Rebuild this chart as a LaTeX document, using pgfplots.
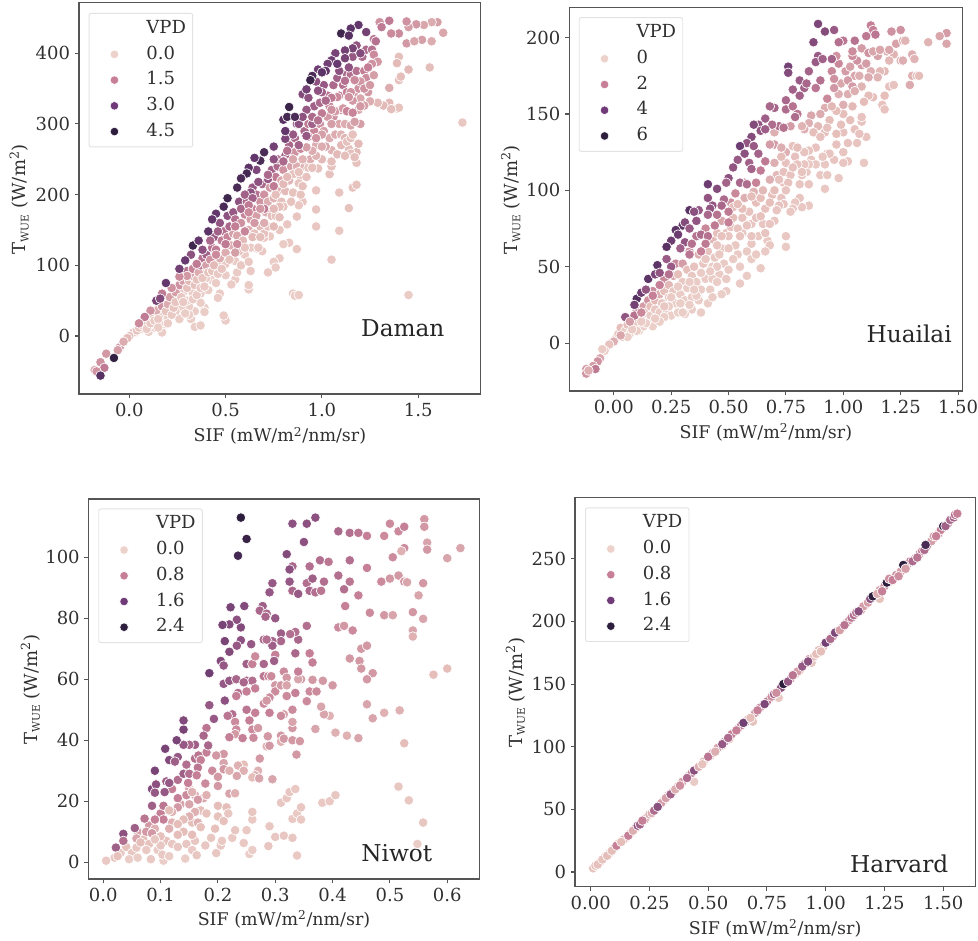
\documentclass[border=0pt]{standalone}
\usepackage{fontspec}
\setmainfont{DejaVu Serif}
\usepackage{pgfplots}
\pgfplotsset{compat=1.18}
\definecolor{axl}{HTML}{555555}
\definecolor{txt}{HTML}{303030}
\definecolor{leg}{HTML}{E2E2E2}
\definecolor{lc0}{HTML}{EDD1CB}
\definecolor{lc1}{HTML}{C67F96}
\definecolor{lc2}{HTML}{703A78}
\definecolor{lc3}{HTML}{2D1E3E}
\newcommand{\twue}{T{\raisebox{-0.3ex}{\fontsize{8pt}{9pt}\selectfont WUE}} (W/m\textsuperscript{2})}
\newcommand{\sif}{SIF (mW/m\textsuperscript{2}/nm/sr)}
\tikzset{lab/.style={font=\fontsize{17.4pt}{20pt}\selectfont,text=black!85}}
\pgfplotsset{
 colormap={ch}{rgb255=(237,209,203) rgb255=(229,190,186) rgb255=(197,127,150) rgb255=(150,88,132) rgb255=(102,56,110) rgb255=(45,30,62)},
 panel/.style={
  scale only axis, anchor=south west, clip=false,
  axis line style={axl,line width=0.9pt},
  tick style={axl,line width=0.8pt,major tick length=3.2pt},
  tick align=outside, xtick pos=bottom, ytick pos=left,
  minor tick num=0, scaled ticks=false,
  font=\fontsize{13.5pt}{15pt}\selectfont,
  tick label style={text=txt,font=\fontsize{13.5pt}{15pt}\selectfont},
  /pgf/number format/assume math mode=true,
  xlabel={\sif}, ylabel={\twue},
  every axis x label/.style={at={(axis description cs:0.5,-0.107)},anchor=center,text=txt,font=\fontsize{13.1pt}{15pt}\selectfont},
  every axis y label/.style={at={(axis description cs:-0.149,0.498)},anchor=center,rotate=90,text=txt,font=\fontsize{13.5pt}{15pt}\selectfont},
  legend cell align=left,
  legend style={anchor=north west,draw=leg,rounded corners=1.5pt,fill=white,line width=0.7pt,
    font=\fontsize{13.5pt}{15pt}\selectfont,text=txt,
    inner xsep=5pt,inner ysep=5.5pt,row sep=7.3pt,
    nodes={text height=9.5pt,text depth=2.5pt,inner sep=0pt}},
 },
 pts/.style={scatter,only marks,mark=*,mark size=3.6pt,point meta=explicit,
   scatter/use mapped color={draw=white,fill=mapped color},
   mark options={line width=0.5pt},forget plot},
 lgm/.style={only marks,mark=*,mark size=3.2pt,mark options={draw=white,fill=#1,line width=0.4pt},
   legend image code/.code={\draw[##1] plot coordinates {(14pt,0cm)};\path[draw=none,fill=none] (0pt,0pt) rectangle (38pt,0.1cm);}},
 lge/.style={legend image code/.code={\path[draw=none,fill=none] (0pt,0pt) rectangle (38pt,0.1cm);}},
}
\begin{document}
\begin{tikzpicture}
\path[use as bounding box] (0pt,0pt) rectangle (733.5pt,705pt);
% ---------------- Daman
\begin{axis}[panel,at={(59.25pt,409.5pt)},width=301.3pt,height=293.5pt,
 xmin=-0.2615,xmax=1.825,ymin=-82,ymax=471.6,
 xtick={0,0.5,1,1.5},ytick={0,100,200,300,400},
 xticklabel style={/pgf/number format/.cd,fixed,fixed zerofill,precision=1},
 point meta min=0,point meta max=4.7,
 legend style={at={(0.024,0.974)}}]
\addlegendimage{lge}\addlegendentry{VPD}
\addlegendimage{lgm=lc0}\addlegendentry{0.0}
\addlegendimage{lgm=lc1}\addlegendentry{1.5}
\addlegendimage{lgm=lc2}\addlegendentry{3.0}
\addlegendimage{lgm=lc3}\addlegendentry{4.5}
\addplot[pts] coordinates {
(1.73,302)[.5](1.45,58)[.3](0.85,60)[.3](0.86,57)[.3](0.88,58)[.3](1.05,108)[.5](1.09,149)[.5](0.97,155)[.5](0.97,179)[.6](0.9,190)[.6](0.88,185)[.5](0.87,169)[.6](0.87,123)[.5](0.83,132)[.4](0.80,130)[.3](0.82,158)[.5](0.78,110)[.4](0.73,141)[.4](0.70,139)[.4](0.72,90)[.4](0.75,105)[.3](0.76,97)[.3](0.69,120)[.4](0.66,124)[.3](0.63,125)[.3](0.62,66)[.3](0.62,72)[.3](0.55,80)[.3](0.63,92)[.4](0.6,115)[.3](0.56,90)[.3](0.55,106)[.3](0.5,102)[.4](0.5,86)[.3](0.53,73)[.3](0.5,22)[.3](0.49,29)[.3](0.47,60)[.3](0.46,54)[.3](0.46,106)[.5](0.43,79)[.3](0.45,75)[.3](0.4,82)[.3](0.39,92)[.4](0.41,65)[.2](0.37,60)[.2](0.39,40)[.2](0.39,34)[.2](0.37,47)[.2](0.34,35)[.2](0.32,24)[.2](0.34,13)[.2](0.37,15)[.2](0.33,60)[.3](0.31,42)[.2](0.27,40)[.2](0.25,52)[.4](0.25,30)[.2](0.26,24)[.2](0.31,30)[.2](0.28,62)[.3](0.3,50)[.2](0.17,8)[.2](0.17,5)[.2](0.1,6)[.2](0.03,5)[.2](0.18,17)[.3](0.16,18)[.2](0.16,28)[.4](0.18,30)[.3](0.13,12)[.2](0.2,25)[.3](0.24,35)[.2](0.06,10)[.3](0.1,14)[.3]
(0.02,5)[.5](0.04,8)[.8](0.05,12)[.6](0.07,15)[.6](0.08,20)[.6](0.09,10)[.3](0.1,25)[1](0.11,18)[.5](0.12,30)[.8](0.13,22)[.4](0.14,36)[1.2](0.15,24)[.4](0.15,12)[.2](0.17,42)[1.6](0.19,35)[.7](0.2,18)[.3](0.2,45)[1.2](0.21,55)[1.4](0.22,30)[.4](0.23,40)[.6](0.24,62)[1.4](0.24,48)[.6](0.26,72)[1.6](0.27,55)[.5](0.28,78)[1.4](0.28,48)[.4](0.29,32)[.2](0.3,92)[2.2](0.3,68)[.8](0.31,78)[1.0](0.32,85)[1.4](0.33,52)[.3](0.33,95)[1.8](0.34,72)[.8](0.35,80)[.8](0.35,58)[.4](0.36,90)[1.2](0.37,100)[2](0.37,68)[.5](0.38,110)[2.2](0.38,82)[.6](0.39,70)[.4](0.4,115)[2.6](0.4,100)[1.4](0.41,90)[.7](0.42,108)[1.6](0.43,125)[2.2](0.43,92)[.7](0.44,140)[2.8](0.44,100)[1.0](0.45,122)[2](0.46,88)[.5](0.47,110)[1.2](0.48,135)[2](0.48,95)[.6](0.49,148)[2.2](0.5,118)[1.2](0.51,140)[1.8](0.51,170)[3](0.52,108)[.7](0.53,128)[1.2](0.54,175)[2.8](0.54,145)[1.4](0.55,165)[2.2](0.56,142)[1.3](0.57,190)[3](0.57,120)[.7](0.58,160)[1.6](0.58,100)[.5](0.59,135)[1](0.6,172)[1.8](0.6,125)[.6](0.61,190)[2.4](0.62,150)[1.2](0.62,105)[.4](0.63,165)[1.4](0.64,210)[2.8](0.64,180)[1.8](0.65,145)[.9](0.66,200)[2.2](0.66,170)[1.4](0.67,125)[.5](0.68,190)[1.6](0.68,155)[1](0.69,215)[2.4](0.7,200)[1.6](0.7,145)[.8](0.71,175)[1.2](0.72,190)[1.2](0.72,155)[.7](0.73,210)[1.5](0.74,235)[2.6](0.74,170)[1](0.75,195)[1.1](0.76,225)[2](0.76,170)[.8](0.77,240)[2.4](0.77,205)[1.2](0.78,150)[.6](0.79,220)[1.3](0.79,190)[.9](0.8,235)[1.6](0.81,205)[1](0.81,255)[2.6](0.83,270)[2.4](0.83,220)[1.1](0.84,240)[1.4](0.84,190)[.7](0.86,260)[1.6](0.86,280)[2.4](0.87,240)[1.2](0.87,300)[3](0.89,265)[1.8](0.89,225)[.9](0.91,290)[2.4](0.91,240)[1.1](0.93,300)[2](0.94,250)[1.2](0.96,325)[2.6](0.96,290)[1.8](0.97,270)[1.2](0.99,330)[2.4](0.99,300)[1.6](1.0,250)[1](1.01,290)[1.4](1.01,355)[2.8](1.03,340)[2.2](1.04,325)[1.8](1.04,280)[1.2](1.06,355)[2.4](1.06,310)[1.6](1.07,285)[1.2](1.08,365)[2.6](1.09,340)[1.9](1.09,300)[1.3](1.1,320)[1.6](1.1,285)[1.1](1.11,355)[2.2](1.13,370)[2.4](1.13,345)[1.9](1.15,370)[2.2](1.16,395)[2.8](1.17,340)[1.5](1.18,375)[2.2](1.19,350)[1.6](1.21,395)[2.4](1.22,375)[1.9](1.23,405)[2.4](1.24,345)[1.5](1.26,405)[2.2](1.23,365)[1.7](1.19,320)[1.3](1.12,280)[1.1](1.14,265)[.9]
(1.09,203)[.6](1.16,210)[.7](1.18,214)[.7](1.14,181)[.7](1.04,229)[.8](1.05,240)[.8](1.05,247)[.9](0.98,237)[.8](0.93,238)[.7](0.95,238)[.8](0.92,225)[.8](0.88,216)[.7](0.85,229)[.7](0.88,232)[.7](0.85,203)[.7](0.89,200)[.7](0.9,212)[.8](0.97,206)[.6](0.8,183)[.7](0.76,200)[.9](0.8,215)[1.0](0.82,225)[1.0]
(1.36,324)[.9](1.39,322)[.8](1.4,323)[.7](1.35,330)[1](1.32,326)[1](1.29,330)[1](1.25,332)[1.2](1.36,321)[.9](1.2,336)[1.3](1.22,326)[1.4](1.2,300)[1.4](1.18,260)[1](1.19,272)[1](1.18,245)[.8](1.15,258)[.9](1.17,253)[.9](1.1,270)[1](1.05,263)[1.1](1.08,257)[1](1.12,255)[.9](1.13,275)[.8](1.15,280)[.9](1.16,285)[.8](1.12,300)[1.2](1.15,298)[1.3](1.17,303)[1.4](1.07,318)[1.5](1.03,310)[1.5](1.05,300)[1.4](1.0,285)[1.4](1.02,268)[1.3](1.0,268)[1.2](0.97,255)[1.1](0.95,262)[1.2](0.92,267)[1.4](0.9,250)[1.1](0.93,282)[1.7](0.97,280)[1.6](0.85,250)[1.3](0.8,248)[1.6](0.82,262)[2.2](0.77,250)[2.2]
(1.63,429)[1.3](1.6,444)[1.4](1.57,444)[1.2](1.57,417)[1.2](1.56,380)[.9](1.52,419)[1.4](1.53,440)[1.3](1.49,441)[1.5](1.45,437)[1.4](1.44,414)[1.5](1.48,417)[1.3](1.44,445)[1.6](1.4,428)[1.7](1.36,428)[1.7](1.35,446)[2](1.3,444)[1.6](1.31,437)[2](1.4,395)[.9](1.39,386)[1](1.4,362)[.8](1.41,367)[.9](1.45,377)[1](1.35,351)[1.2](1.27,369)[1.4](1.27,398)[1.7](1.29,388)[1.5](1.26,385)[1.6](1.24,380)[1.9](1.27,420)[2.1](1.28,417)[2.2](1.2,360)[1.5](1.22,350)[1.6](1.25,355)[1.5](1.17,362)[1.7](1.12,361)[2.2](1.15,345)[1.6](1.2,325)[1.5](1.16,333)[1.5](1.14,338)[1.6](1.08,338)[1.7](1.11,322)[1.5](1.05,337)[2.0](1.05,320)[1.6](1.13,318)[1.8](1.16,316)[1.8]
(0.75,250)[3](0.8,247)[2.4](0.66,235)[3.3](0.67,218)[3.0](0.72,222)[2.8](0.72,228)[2.4](0.75,212)[2](0.63,203)[3](0.6,200)[2.6](0.64,195)[2.6](0.58,180)[2.4](0.62,185)[2.0](0.7,180)[2](0.62,175)[1.7](0.47,160)[2.9](0.46,148)[2.6](0.52,155)[2.4](0.42,135)[2.4](0.5,130)[2](0.56,130)[1.7](0.55,155)[1.9](0.6,148)[1.8](0.65,160)[1.5](0.68,180)[1.5](0.7,160)[1.2](0.75,155)[1.0](0.78,168)[.9](0.78,183)[.9](0.75,180)[1](0.64,140)[1](0.68,140)[.9](0.55,118)[1.4](0.45,115)[1.7](0.38,122)[3.0](0.35,102)[2.0](0.32,115)[3](0.3,85)[1.5](0.26,84)[1.7](0.22,68)[1.6](0.17,60)[2](0.11,36)[1.6](0.08,27)[2](0.05,18)[1.7]
(0.0,0)[.8](-0.01,-3)[1](-0.05,-16)[1.6](-0.03,-8)[1.2](-0.06,-20)[1.4](-0.12,-25)[1.5](-0.15,-37)[1.6](-0.18,-48)[1.2](-0.13,-45)[2](-0.17,-50)[1.6]
(0.95,300)[2.6](0.85,285)[2.8](0.92,283)[2.8](0.88,270)[2.6](0.95,310)[2.4](1.0,345)[2.6](1.0,315)[2.0](0.98,305)[2.2](1.02,333)[2.4](0.92,320)[2.8](0.81,279)[3.3](0.88,300)[3](0.9,310)[3](1.14,380)[3](1.09,375)[3](1.18,411)[2.9](0.97,360)[3](0.9,342)[3.2](0.93,337)[3](0.98,347)[3](0.92,349)[3.5]
(1.19,440)[3.8](1.1,428)[4.4](1.15,435)[3.9](1.14,425)[4](1.23,430)[3.5](1.16,407)[3.4](1.12,404)[3.5](1.2,400)[3.2](1.07,400)[3.4](1.05,390)[3.6](1.03,385)[3.5](1.02,375)[3.8](0.98,377)[3.6](1.0,373)[3.9](1.08,385)[3.7](1.12,393)[3.4](0.95,368)[4.2](0.94,362)[4.5](0.83,324)[4.5](0.8,306)[4](0.82,310)[4.3](0.86,310)[4.2](0.81,290)[3.8]
(0.75,268)[3.5](0.7,260)[4.2](0.68,248)[4.2](0.65,252)[3.8](0.62,238)[3.9](0.61,230)[4.3](0.58,223)[4.2](0.56,210)[4.2](0.51,195)[4.4](0.49,183)[4.2](0.45,173)[3.8](0.43,165)[3.8](0.41,148)[3.9](0.33,128)[4.4](0.36,135)[3.8](0.29,107)[3.7](0.26,95)[3.5](0.19,75)[3.8](0.14,50)[3.4](0.16,53)[3.2](-0.08,-31)[4.6](-0.15,-56)[4]
};
\node[lab] at (axis cs:1.42,11) {Daman};
\end{axis}
% ---------------- Huailai
\begin{axis}[panel,at={(427pt,411.75pt)},width=294.75pt,height=287.8pt,
 xmin=-0.1937,xmax=1.5187,ymin=-31.4,ymax=219.9,
 xtick={0,0.25,0.5,0.75,1,1.25,1.5},ytick={0,50,100,150,200},
 xticklabel style={/pgf/number format/.cd,fixed,fixed zerofill,precision=2},
 point meta min=0,point meta max=6.5,
 legend style={at={(0.024,0.974)}}]
\addlegendimage{lge}\addlegendentry{VPD}
\addlegendimage{lgm=lc0}\addlegendentry{0}
\addlegendimage{lgm=lc1}\addlegendentry{2}
\addlegendimage{lgm=lc2}\addlegendentry{4}
\addlegendimage{lgm=lc3}\addlegendentry{6}
\addplot[pts] coordinates {
(0.01,3)[.4](0.02,6)[.6](0.03,10)[1.2](0.04,4)[.3](0.05,8)[.5](0.06,12)[1.2](0.07,6)[.3](0.08,15)[1.4](0.09,10)[.4](0.1,21)[2.2](0.1,14)[.6](0.11,8)[.2](0.12,17)[.8](0.13,24)[2](0.13,11)[.2](0.14,20)[1](0.15,14)[.3](0.15,28)[2.2](0.16,18)[.5](0.16,24)[1.2](0.17,34)[2.4](0.18,22)[.6](0.18,28)[1.4](0.19,14)[.2](0.2,32)[1.6](0.2,20)[.4](0.21,26)[.8](0.22,42)[2.4](0.22,34)[1.2](0.23,20)[.3](0.24,38)[1.4](0.24,30)[.6](0.25,18)[.2](0.26,44)[1.8](0.26,34)[.7](0.27,26)[.3](0.27,52)[2.4](0.28,45)[1.2](0.28,20)[.2](0.29,32)[.4](0.3,52)[2](0.3,40)[.6](0.31,28)[.3](0.32,48)[1.2](0.32,36)[.4](0.33,60)[2.2](0.34,44)[.7](0.34,30)[.3](0.35,50)[1](0.36,70)[3](0.36,40)[.4](0.37,58)[1.6](0.37,28)[.3](0.38,35)[.3](0.39,52)[.8](0.4,75)[2.4](0.4,42)[.4](0.41,60)[1](0.42,35)[.3](0.43,68)[1.4](0.43,50)[.5](0.44,56)[.6](0.45,72)[1.2](0.46,45)[.4](0.47,80)[1.8](0.47,62)[.7](0.48,52)[.5](0.49,72)[1](0.5,48)[.4](0.51,76)[1](0.51,92)[2.2](0.53,64)[.6](0.53,98)[2.4](0.54,58)[.5](0.56,72)[.7](0.56,82)[1](0.57,95)[1.6](0.58,60)[.5](0.59,86)[1](0.6,55)[.4](0.6,78)[.8](0.62,92)[1.2](0.63,70)[.7](0.64,95)[1.2](0.65,78)[.8](0.66,88)[1](0.67,67)[.6](0.69,97)[1.2](0.7,118)[1.6](0.71,110)[1.4](0.73,95)[.9](0.74,112)[1.1](0.75,125)[1.6](0.77,110)[1](0.79,122)[1.1](0.81,104)[.8](0.84,112)[.8](0.86,120)[.8](0.88,128)[1](0.89,142)[1.4](0.94,146)[1.3](0.96,120)[.8](1.0,138)[1.1](1.05,140)[1](0.95,178)[2.4](0.99,170)[1.8](1.01,178)[2](1.08,168)[1.5](1.12,178)[1.6](1.08,182)[2]
(1.1,135)[.9](1.07,137)[1](1.06,131)[.9](1.02,131)[1](1.02,119)[.8](1,118)[.8](1.09,118)[.7](1.0,125)[.8](0.97,130)[1](0.97,137)[1.2](0.93,124)[.8](0.92,117)[.7](0.94,124)[.9](0.88,117)[.7](0.85,117)[.7](0.83,117)[.8](0.9,110)[.6](0.93,110)[.6](0.98,108)[.7](0.92,101)[.6](0.91,122)[.7](0.85,126)[.9](0.83,125)[.9](0.78,129)[1.1](0.8,128)[1.2](0.8,117)[.9](0.75,118)[1](0.73,122)[1.3](0.7,130)[2](0.73,128)[1.6](0.82,110)[.9](0.78,115)[1.1](0.85,104)[.8](0.82,112)[.9](0.74,105)[1](0.76,105)[1](0.72,107)[1.1](0.68,107)[1.6](0.75,100)[.9](0.7,100)[1.3](0.65,100)[1.4](0.61,99)[1.5](0.68,92)[1.2](0.74,91)[1](0.72,90)[1](0.85,90)[.7](0.82,89)[.7](0.81,95)[.8](0.79,92)[.7](0.78,88)[.7](0.77,86)[.6](0.71,87)[.8](0.7,80)[.8](0.68,78)[.8](0.66,72)[.9](0.75,70)[.6](0.75,63)[.5](0.68,64)[.6](0.66,60)[.5](0.64,49)[.5](0.62,58)[.5](0.6,65)[.6](0.58,77)[.9](0.62,82)[1.1](0.64,83)[1.1](0.56,88)[1.2](0.52,89)[1.3](0.54,91)[1.2](0.52,82)[1.3](0.54,75)[.9](0.5,70)[.8](0.47,70)[1](0.55,70)[.9](0.6,70)[.8](0.5,62)[.7](0.45,64)[.8](0.46,58)[.6](0.52,55)[.5](0.55,50)[.4](0.58,44)[.4](0.55,39)[.4](0.49,34)[.4](0.49,42)[.5](0.43,42)[.4](0.45,40)[.3](0.4,55)[.7](0.38,46)[.4](0.41,26)[.3](0.36,31)[.3](0.33,40)[.4](0.34,22)[.3](0.31,19)[.2](0.29,26)[.3](0.28,37)[.4](0.24,24)[.3](0.22,17)[.3](0.17,11)[.2](0.2,14)[.2](0.25,30)[.4](0.22,24)[.6](0.18,16)[.4](0.14,13)[.2](0.1,8)[.2](0.12,14)[.4](0.06,4)[.2](0.08,9)[.4](0.3,20)[.3](0.33,25)[.3](0.38,20)[.3](0.43,30)[.3](0.47,32)[.3](0.45,50)[.5](0.42,47)[.4](0.35,35)[.4]
(1.2,168)[1.1](1.22,169)[1.0](1.18,162)[1.2](1.13,161)[1.2](1.11,162)[1.3](1.09,158)[1.3](1.04,155)[1.4](1.02,163)[1.6](0.98,163)[1.6](1.0,156)[1.6](1.0,150)[1.2](0.97,152)[1.2](0.92,154)[1.6](0.95,155)[1.4](0.9,150)[1.7](0.86,149)[1.8](0.85,144)[1.6](0.83,140)[1.6](0.87,138)[1.2](0.92,138)[1.2](0.9,135)[1.1](0.93,141)[1.1](0.99,143)[1.1](1.03,146)[1.2](1.08,145)[1.0](1.08,148)[1.0](1.17,156)[1](1.18,153)[1](1.18,178)[1.4](1.16,178)[1.4](1.15,174)[1.5](1.11,174)[1.7](1.05,175)[1.8](1.07,175)[1.6](1.02,172)[2](1.04,168)[2](0.96,173)[2.2](0.96,167)[2.1](0.93,160)[2.4](1.05,165)[1.6](1.1,183)[2](1.06,185)[2.2](1.03,181)[1.9](1.04,188)[2.3](0.98,183)[2.4](0.97,188)[2.2](1.08,193)[2](1.04,191)[2.3](1.11,190)[2.2](1.15,188)[1.9](1.13,191)[1.8](1.19,191)[1.6](1.22,189)[1.5](1.2,185)[1.4](1.2,192)[1.8](1.16,192)[1.8](0.82,142)[1.5](0.77,142)[2](0.7,138)[1.6](0.68,130)[2](0.6,96)[1.3](0.57,105)[2]
(1.45,203)[2](1.42,201)[1.8](1.45,196)[1.8](1.37,197)[1.5](1.30,189)[1.6](1.31,186)[1.5](1.25,185)[1.5](1.25,205)[2.2](1.21,204)[2.2](1.23,196)[1.9](1.26,198)[1.6](1.27,198)[1.5](1.3,175)[1.5](1.32,175)[1.4](1.33,175)[1.3](1.29,169)[1.7](1.26,185)[1.6](1.12,208)[2.6](1.13,205)[2.6](1.1,201)[2.8](1.14,202)[2.9](1.05,198)[3](1.0,198)[2.9](0.98,197)[3.1](0.89,209)[4.6](0.92,204)[4.4](0.96,205)[3.8](0.87,197)[4.4](0.89,188)[3.8](0.88,184)[3.8](0.95,186)[3.5](0.91,186)[3.6](0.76,181)[4.8](0.76,177)[4.4](0.85,178)[3.5](0.81,172)[3.8](0.78,166)[3.6](0.83,167)[3.5](0.81,162)[3.6](0.84,170)[3.4](0.9,172)[3.1](0.88,167)[2.9](0.75,159)[3.4](0.7,154)[3.5](0.68,155)[3.4](0.66,147)[3.7](0.75,153)[3.2](0.78,155)[3](0.8,150)[2.9](0.79,148)[3.2](0.72,142)[3.2](0.74,141)[3](0.69,143)[3.2](0.63,143)[4](0.61,143)[4.4](0.64,139)[4](0.66,140)[3.7](0.6,135)[4.4](0.58,131)[4](0.61,129)[3.8](0.55,129)[5](0.57,124)[4.2](0.54,120)[3.8](0.63,124)[3.5](0.52,115)[4](0.59,118)[3.6](0.66,119)[2.8](0.6,114)[3.5](0.64,113)[2.7](0.5,108)[4.2](0.41,104)[5](0.45,101)[4.4](0.49,105)[3.5](0.55,105)[3.4](0.58,104)[3.2](0.62,105)[2.5](0.41,95)[4](0.43,90)[4](0.48,94)[3.3](0.47,90)[3.4](0.42,88)[4](0.37,87)[3.9](0.33,87)[5.5](0.35,86)[4.2](0.41,84)[3.4](0.5,86)[2.8](0.45,84)[3](0.36,80)[4.0](0.3,77)[5.4](0.31,79)[4.4](0.27,74)[5.4](0.28,71)[5](0.33,75)[3.8](0.44,77)[2.8](0.5,79)[2.6](0.25,67)[5](0.23,63)[5.5](0.31,66)[4](0.34,65)[3](0.29,62)[3.6](0.38,71)[3.2](0.41,70)[3](0.4,65)[2.8](0.19,51)[5.4](0.23,55)[3.8](0.25,50)[3.8](0.33,58)[2.9](0.38,60)[2.6](0.15,42)[5.4](0.18,45)[4.6](0.2,46)[4](0.24,45)[3](0.1,29)[5.6](0.12,33)[5](0.14,35)[4](0.09,25)[4.8](0.17,31)[2.6](0.2,38)[2.6](0.05,17)[4](0.09,18)[3](0.12,20)[2.4](0.07,14)[2](0.03,5)[1.8](0,1)[1.6](-0.02,-1)[1](-0.04,-5)[.5](-0.05,-4)[.4](-0.06,-10)[1.8](-0.07,-12)[2.2](-0.09,-15)[2](-0.12,-17)[2](-0.12,-20)[2.2](-0.08,-17)[2.8](-0.11,-18)[1.6]
};
\node[lab] at (axis cs:1.287,6) {Huailai};
\end{axis}
% ---------------- Niwot
\begin{axis}[panel,at={(66.5pt,45.75pt)},width=293pt,height=285pt,
 xmin=-0.0255,xmax=0.656,ymin=-5.5,ymax=119.1,
 xtick={0,0.1,0.2,0.3,0.4,0.5,0.6},ytick={0,20,40,60,80,100},
 xticklabel style={/pgf/number format/.cd,fixed,fixed zerofill,precision=1},
 point meta min=0,point meta max=2.5,
 legend style={at={(0.0246,0.975)}}]
\addlegendimage{lge}\addlegendentry{VPD}
\addlegendimage{lgm=lc0}\addlegendentry{0.0}
\addlegendimage{lgm=lc1}\addlegendentry{0.8}
\addlegendimage{lgm=lc2}\addlegendentry{1.6}
\addlegendimage{lgm=lc3}\addlegendentry{2.4}
\addplot[pts] coordinates {
(0.02,1.5)[.3](0.03,3)[.3](0.04,5)[.4](0.05,3)[.3](0.06,10)[.7](0.07,7.5)[.5](0.08,6)[.4](0.08,12)[.8](0.09,11)[.6](0.095,4)[.2](0.1,16)[1](0.11,7)[.4](0.12,13)[.6](0.12,6)[.3](0.135,19)[.7](0.14,10)[.5](0.15,19)[.7](0.155,13)[.5](0.16,7)[.3](0.17,17)[.5](0.175,21)[.7](0.12,24)[1](0.13,27)[1.2](0.15,24)[.7](0.16,22)[.7]
(0.24,113)[2.5](0.25,106)[2.4](0.235,100.5)[2.3](0.37,113)[1.6](0.33,111)[1.6](0.355,111)[1.6](0.35,105)[1.6](0.32,101)[1.7](0.33,97)[1.3](0.325,96)[1.6](0.295,91.5)[1.5](0.29,88.5)[1.5](0.325,92)[1.5](0.33,89)[1.3](0.34,88)[1.5](0.355,91.5)[1.2](0.36,97)[1.2](0.365,93)[1.4](0.378,99)[1.2](0.36,89)[1.3](0.37,88.5)[1.2](0.38,89)[1.1](0.385,92)[1.2](0.393,98.5)[1.1](0.41,94)[1.2](0.42,89.5)[1.2](0.43,92)[1.1](0.43,99)[1.2]
(0.41,108.5)[1.3](0.43,108)[1.2](0.445,108)[1.1](0.46,107)[1](0.49,107)[.9](0.5,111)[.9](0.515,108.5)[.9](0.525,110)[1](0.56,112.5)[.8](0.56,110)[.8](0.565,104.8)[.7](0.565,102.5)[.8](0.623,103)[.7](0.6,99.7)[.7](0.525,103)[.9](0.52,102)[.6](0.505,100)[.9](0.46,96.5)[1](0.485,92)[.9](0.5,93)[.8](0.515,94)[.8](0.525,92)[.8](0.53,91.8)[.7](0.558,91.5)[.8](0.55,87.5)[.7](0.54,82)[.8](0.558,79.8)[.7](0.54,76)[.7](0.54,74)[.6](0.576,61.5)[.5](0.6,63.5)[.5](0.465,81.8)[.9](0.49,81)[.8](0.505,81)[.7](0.422,84)[1](0.445,87.5)[1](0.41,77)[.9](0.42,77.5)[.8](0.435,76)[.9](0.45,70)[.8](0.46,71)[.8](0.43,66.8)[.8](0.447,66)[.8](0.45,63.5)[.8](0.47,62)[.8](0.46,60)[.8](0.46,51.8)[.7](0.47,47.2)[.7](0.49,49)[.6](0.517,49.8)[.6](0.525,39)[.5](0.515,24.8)[.3](0.533,20.3)[.3](0.558,13)[.3](0.548,6)[.1](0.445,40.7)[.7](0.425,41.5)[.6](0.405,42.5)[.6](0.37,43.7)[.7](0.395,48)[.6](0.385,48.5)[.7](0.38,51)[.7](0.355,52.8)[.9](0.4,58)[.8](0.383,59.5)[.8](0.365,59.8)[.8](0.36,56)[.9](0.372,56)[.9](0.345,60)[.8](0.34,60)[.7](0.335,55.5)[1](0.34,62.5)[1](0.365,65.5)[1](0.36,68.5)[1](0.335,68.5)[1.3](0.355,77.5)[1.2](0.34,73)[1.3](0.335,75.5)[1.2](0.326,74.8)[1.2](0.31,75)[1.4](0.31,72.5)[1.3](0.295,72.5)[1.3](0.295,71)[1.4](0.28,73)[1.3](0.285,73)[1.2](0.278,84)[1.4](0.273,82.5)[1.3](0.285,81.5)[1.3](0.283,80.5)[1.3](0.3,80)[1.5](0.246,84)[1.7](0.222,83.6)[1.8](0.24,77)[1.7](0.233,79.5)[1.6](0.22,78)[1.7](0.208,77.8)[1.8](0.212,72.5)[1.8](0.24,72.8)[1.6](0.233,71)[1.5](0.258,71.5)[1.5](0.22,69)[1.7](0.205,66)[1.7](0.21,64.5)[1.5](0.185,62)[1.9](0.212,53)[1.6](0.185,51.5)[1.5](0.193,47)[1.5](0.21,58.5)[1.5](0.22,59.5)[1.5](0.232,60)[1.3](0.25,59.5)[1.3](0.26,59.5)[1.2](0.245,59)[1.3](0.235,55.5)[1.2](0.232,54.5)[1](0.25,56)[1](0.265,57)[1](0.25,65)[1.4](0.26,65)[1](0.265,67.5)[.9](0.28,65)[1.3](0.3,68)[1](0.298,66)[1.4](0.28,61)[1.1](0.288,61)[1](0.293,61)[.9](0.315,62.5)[.9](0.32,60.5)[.8](0.3,58)[.8](0.3,56)[.9](0.31,58)[.8](0.32,58)[.7](0.32,54.5)[.9](0.29,54)[.9](0.28,52)[.9](0.285,53)[.8](0.33,50)[.9](0.315,48.5)[.7](0.31,48)[.9](0.29,49)[1](0.265,49)[1](0.25,50)[1.1](0.255,46.5)[1](0.225,48.5)[1.2](0.217,48)[1.1](0.23,46)[.9](0.232,43.5)[.9](0.26,43.5)[.9](0.27,44)[.8](0.23,42)[.8](0.22,41)[1](0.243,40.7)[1](0.262,40.8)[.9](0.285,38)[.6](0.287,41.3)[.8](0.29,38.2)[.8](0.31,41.5)[.8](0.31,39.5)[.6](0.315,40.5)[.8](0.33,44)[.8](0.33,46)[.7](0.33,40)[.8](0.343,39.7)[.8](0.337,35.3)[.8](0.273,34)[.8](0.27,30)[.6](0.265,28.5)[.6](0.26,27.8)[.5](0.272,27.5)[.7](0.295,27.2)[.7](0.245,32)[.5](0.235,31.7)[.6](0.245,30)[.6](0.233,28.3)[.7](0.21,35.5)[.8](0.197,35)[.8](0.21,32.5)[.7](0.21,30.5)[.8](0.19,30)[.9](0.2,28)[.8](0.2,25)[.8](0.178,25.8)[.9](0.22,22.5)[.7](0.23,22.6)[.6](0.22,30)[.6](0.18,22)[.6](0.18,36)[1](0.183,38.3)[1.3](0.18,44)[1.1](0.175,41.5)[1.3](0.16,38.5)[1.4](0.15,38.5)[1.3](0.14,38.5)[1.5](0.14,43.5)[1.8](0.14,46.5)[1.7](0.128,40)[1.8](0.108,37.2)[1.8](0.13,34.5)[1.5](0.115,33.5)[1.7](0.125,33)[1.4](0.145,32)[1.2](0.14,29)[1.4](0.15,29)[1.2](0.16,34)[1.2](0.166,35)[1.1](0.17,33.5)[1](0.165,31)[1.1](0.163,28.5)[1](0.148,26)[1](0.09,30)[1.8](0.085,24)[1.7](0.092,25.5)[1.6](0.11,26.5)[1.4](0.115,26)[1.5](0.09,22.8)[1.5](0.107,23)[1.5](0.085,18.5)[1.4](0.105,18.5)[1.1](0.105,14)[1](0.09,14)[1](0.072,14.3)[1.1](0.055,11.2)[1.4](0.035,9.3)[1.6](0.035,7)[1.2](0.022,4.8)[1.4](0.075,10)[.8](0.085,9.5)[.8](0.13,21)[1](0.145,22)[.9](0.155,23)[.6](0.165,20.5)[.8](0.16,16.5)[.6](0.15,15)[.6](0.165,13)[.6](0.13,18)[.8](0.12,16.5)[.6](0.115,17)[.5](0.14,14)[.5](0.13,12.5)[.5](0.13,9)[.5](0.115,11)[.6](0.1,8.5)[.4](0.155,9)[.5](0.17,11.5)[.4](0.145,6)[.3](0.13,5)[.3](0.1,5.5)[.3](0.09,7.5)[.3](0.058,7.8)[.7](0.058,4.8)[.3](0.065,6.5)[.5](0.075,4)[.2](0.045,1)[.1](0.025,2)[.4](0.005,.5)[.2](0.06,1.5)[.1](0.083,1)[.2](0.105,.5)[.1](0.103,2.5)[.2](0.115,2)[.1](0.143,1.2)[.1](0.155,4)[.2](0.163,2.3)[.3](0.178,5.5)[.3](0.188,8)[.3](0.195,11)[.4](0.197,3)[.3](0.205,5.5)[.3](0.207,7)[.2](0.18,16)[.4](0.2,18.5)[.5](0.2,15)[.4](0.21,13.5)[.4](0.215,18)[.5](0.218,16)[.3](0.225,8)[.2](0.23,10.5)[.3](0.245,6.3)[.2](0.25,10.5)[.2](0.26,14)[.2](0.26,16.5)[.3](0.255,2.7)[.1](0.26,4)[.1](0.288,5.3)[.3](0.29,11.8)[.3](0.3,8.3)[.3](0.315,8.7)[.3](0.33,8)[.3](0.338,2.2)[.2](0.33,14.2)[.2](0.338,16)[.2](0.345,14)[.2](0.345,18)[.3](0.31,19.5)[.3](0.32,21)[.3](0.325,23)[.3](0.335,24)[.2](0.382,19.5)[.2](0.395,20)[.2](0.405,22)[.3]
};
\node[lab] at (axis cs:0.512,3) {Niwot};
\end{axis}
% ---------------- Harvard
\begin{axis}[panel,at={(431.25pt,40pt)},width=300.2pt,height=292pt,
 xmin=-0.0668,xmax=1.6365,ymin=-11.7,ymax=299,
 xtick={0,0.25,0.5,0.75,1,1.25,1.5},ytick={0,50,100,150,200,250},
 xticklabel style={/pgf/number format/.cd,fixed,fixed zerofill,precision=2},
 point meta min=0,point meta max=2.0,
 legend style={at={(0.025,0.974)}}]
\addlegendimage{lge}\addlegendentry{VPD}
\addlegendimage{lgm=lc0}\addlegendentry{0.0}
\addlegendimage{lgm=lc1}\addlegendentry{0.8}
\addlegendimage{lgm=lc2}\addlegendentry{1.6}
\addlegendimage{lgm=lc3}\addlegendentry{2.4}
\addplot[pts] coordinates {
(0.44,72)[.15](0.8,139)[.2](0.94,167)[.3](1.23,218)[.3](0.69,120)[.3](0.31,57)[.3](0.24,44)[.3](0.15,27)[.3](0.59,106)[.4](1.17,213)[.3](0.89,161)[.4](1.46,266)[.5](1.28,232)[.4](0.99,180)[.4](0.76,138)[.5](0.56,101)[.5]
(0.04,8)[.4](0.06,12)[.4](0.08,15)[.5](0.1,19)[.6](0.12,23)[.6](0.14,26)[.5](0.17,31)[.5](0.19,35)[.7](0.23,42)[.6](0.25,46)[.5](0.29,53)[1.5](0.3,55)[.6](0.33,61)[.7](0.35,64)[.7](0.37,68)[.6](0.39,72)[.6](0.42,77)[.7](0.43,79)[.8](0.48,88)[.5](0.51,93)[.6](0.52,95)[.7](0.54,99)[.6](0.57,104)[.9](0.6,110)[.8](0.63,115)[.7](0.64,117)[.8](0.66,120)[1](0.67,122)[.5](0.7,127)[.7](0.72,131)[.8](0.75,136)[.9](0.77,140)[.7](0.81,147)[1.3](0.83,151)[.9](0.85,154)[.7](0.87,158)[.7](0.88,160)[.6](0.91,166)[.9](0.93,170)[.6](0.95,172)[.4](0.97,177)[.4](1.01,184)[.9](1.03,188)[1](1.05,192)[.8](1.07,195)[.6](1.09,199)[.9](1.1,201)[.7](1.11,203)[.9](1.15,209)[.7](1.16,212)[.6](1.18,215)[.6](1.21,221)[.6](1.23,225)[.6](1.25,228)[.7](1.29,235)[.7](1.3,237)[.7](1.32,240)[.6](1.35,246)[.9](1.36,248)[.8](1.38,250)[.9](1.4,254)[.9](1.41,256)[.8](1.43,260)[.9](1.45,264)[.6](1.48,270)[.8](1.49,273)[.8](1.52,278)[1]
(0.01,3)[.3](0.02,5)[.3](0.03,6)[.35](0.05,10)[.3](0.07,13)[.4](0.09,17)[.4](0.11,21)[.8](0.13,24)[.4](0.16,29)[.8](0.18,33)[.5](0.2,37)[1.2](0.21,38)[1.1](0.22,41)[.8](0.26,47)[.5](0.27,49)[1](0.285,52)[1.3](0.32,59)[.6](0.34,62)[1.1](0.36,66)[.5](0.38,69)[.7](0.41,75)[1](0.44,81)[1.3](0.46,84)[.5](0.475,86)[.3](0.5,92)[.9](0.53,96)[.5](0.56,102)[1.2](0.585,107)[1](0.62,113)[.8](0.65,119)[1.5](0.68,123)[.4](0.71,129)[.8](0.74,134)[1.4](0.78,142)[1.1](0.79,143)[.7](0.82,150)[2](0.84,152)[1.2](0.86,157)[.9](0.9,164)[1.2](0.925,168)[1.3](0.96,174)[.4](0.98,176)[.4](1.0,183)[1.5](1.02,186)[1](1.04,191)[1.4](1.06,193)[.6](1.08,197)[.9](1.12,205)[1](1.13,207)[.9](1.14,208)[1.3](1.19,218)[1.3](1.2,220)[2](1.22,222)[.5](1.24,224)[.8](1.26,231)[2](1.27,234)[.7](1.285,233)[.8](1.31,236)[.7](1.33,245)[2.2](1.34,242)[.6](1.37,248)[1](1.39,251)[.9](1.42,257)[1](1.425,261)[1.8](1.46,268)[.6](1.47,268)[.8](1.5,276)[2.2](1.51,276)[1.1](1.53,281)[1](1.545,283)[1.1](1.55,285)[.9](1.56,286)[.8]
};
\node[lab] at (axis cs:1.313,6.4) {Harvard};
\end{axis}
\end{tikzpicture}
\end{document}
